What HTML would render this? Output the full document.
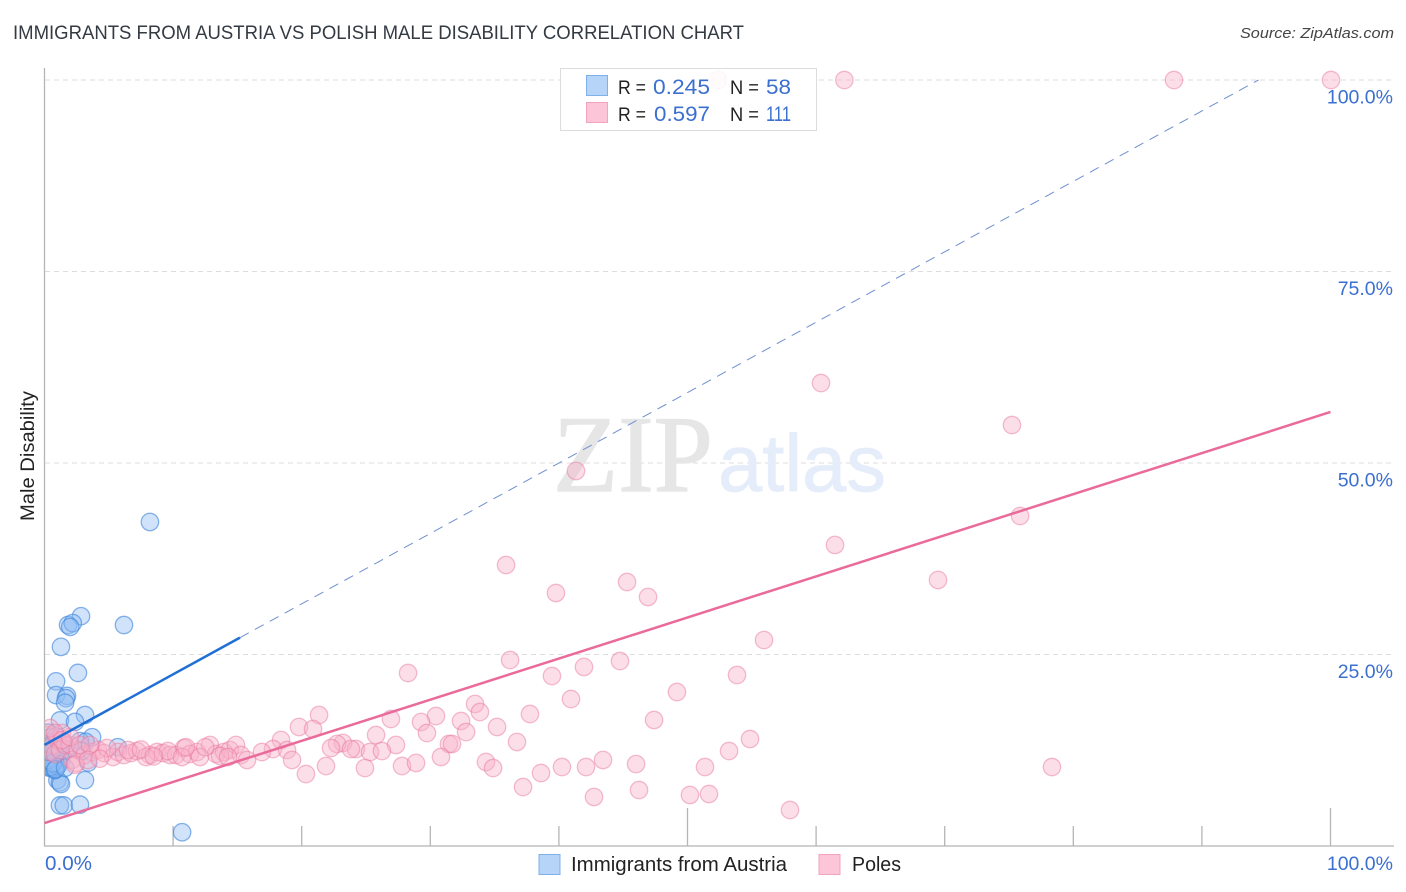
<!DOCTYPE html>
<html lang="en">
<head>
<meta charset="utf-8">
<title>Immigrants from Austria vs Polish Male Disability Correlation Chart</title>
<style>
html,body{margin:0;padding:0;background:#fff;}
svg{display:block;font-family:"Liberation Sans",sans-serif;}
</style>
</head>
<body>
<svg id="chart" width="1406" height="892" viewBox="0 0 1406 892" xmlns="http://www.w3.org/2000/svg">
  <defs>
    <clipPath id="plot-clip"><rect x="45" y="60" width="1349" height="786"/></clipPath>
  </defs>
  <rect x="0" y="0" width="1406" height="892" fill="#ffffff"/>
  <text x="13" y="39" font-size="19" fill="#333a42" textLength="731" lengthAdjust="spacingAndGlyphs">IMMIGRANTS FROM AUSTRIA VS POLISH MALE DISABILITY CORRELATION CHART</text>
  <text x="1394" y="38" font-size="15" font-style="italic" fill="#444" text-anchor="end" textLength="154" lengthAdjust="spacingAndGlyphs">Source: ZipAtlas.com</text>

  <g id="grid"></g>

  <g>
    <text x="553" y="491" font-family="'Liberation Serif',serif" font-size="109" fill="#e6e6e6" stroke="#e6e6e6" stroke-width="1.2" textLength="160" lengthAdjust="spacingAndGlyphs">ZIP</text>
    <text x="718" y="491" font-size="81" fill="#e5edfb" stroke="#e5edfb" stroke-width="0.8" textLength="168" lengthAdjust="spacingAndGlyphs">atlas</text>
  </g>

  <g id="axes">
    <line x1="44.5" y1="68" x2="44.5" y2="846" stroke="#b5b5b5" stroke-width="1.3"/>
    <line x1="44" y1="846" x2="1394" y2="846" stroke="#b5b5b5" stroke-width="1.3"/>
  </g>

  <g id="points" clip-path="url(#plot-clip)"></g>
  <g id="trends"></g>
  <g id="labels"></g>

  <text transform="translate(34,456) rotate(-90)" font-size="19" fill="#222" text-anchor="middle" textLength="130" lengthAdjust="spacingAndGlyphs">Male Disability</text>

  <g>
    <rect x="560.5" y="68.5" width="256" height="62" fill="#ffffff" fill-opacity="0.88" stroke="#dcdcdc" stroke-width="1"/>
    <rect x="586.5" y="75.5" width="21" height="20" fill="#b6d3f8" stroke="#7fb0ea"/>
    <rect x="586.5" y="102.5" width="21" height="20" fill="#fdc6d8" stroke="#f2a3bd"/>
    <text x="618" y="94" font-size="19.5" fill="#222" textLength="28" lengthAdjust="spacingAndGlyphs">R =</text>
    <text x="653" y="94" font-size="21" fill="#3b6fd0" textLength="57" lengthAdjust="spacingAndGlyphs">0.245</text>
    <text x="730" y="94" font-size="19.5" fill="#222" textLength="29" lengthAdjust="spacingAndGlyphs">N =</text>
    <text x="766" y="94" font-size="21" fill="#3b6fd0" textLength="25" lengthAdjust="spacingAndGlyphs">58</text>
    <text x="618" y="121" font-size="19.5" fill="#222" textLength="28" lengthAdjust="spacingAndGlyphs">R =</text>
    <text x="654" y="121" font-size="21" fill="#3b6fd0" textLength="56" lengthAdjust="spacingAndGlyphs">0.597</text>
    <text x="730" y="121" font-size="19.5" fill="#222" textLength="29" lengthAdjust="spacingAndGlyphs">N =</text>
    <text x="766" y="121" font-size="21" fill="#3b6fd0" textLength="25" lengthAdjust="spacingAndGlyphs">111</text>
  </g>

  <g>
    <rect x="539" y="854.5" width="21" height="20" fill="#b6d3f8" stroke="#7fb0ea"/>
    <text x="571" y="871" font-size="20" fill="#222" textLength="216" lengthAdjust="spacingAndGlyphs">Immigrants from Austria</text>
    <rect x="819" y="854.5" width="21" height="20" fill="#fdc6d8" stroke="#f2a3bd"/>
    <text x="852" y="871" font-size="20" fill="#222" textLength="49" lengthAdjust="spacingAndGlyphs">Poles</text>
  </g>
</svg>

<script>
var xTickValues = [10, 20, 30, 40, 50, 60, 70, 80, 90, 100];
var xMajorTicks = [50, 100];
var yTickValues = [25, 50, 75, 100];
var yTickLabels = ['25.0%', '50.0%', '75.0%', '100.0%'];
var xEndLabels = ['0.0%', '100.0%'];

var austriaX = [8.2, 6.18, 2.84, 1.83, 2.2, 2.0, 1.28, 2.6, 0.9, 0.9, 1.75, 1.67, 1.6, 3.15, 1.2, 2.37, 3.7, 5.7, 2.76, 3.2, 3.4, 3.15, 1.0, 1.2, 1.28, 1.2, 1.5, 2.76, 10.7,
  0.3, 0.5, 0.7, 0.9, 1.1, 0.4, 0.6, 0.8, 1.2, 1.5, 1.8, 1.3, 0.2, 0.3, 0.4, 0.5, 0.6, 0.7, 0.8, 0.9, 1.0, 1.1, 0.25, 0.45, 0.65, 0.85, 1.6, 0.35, 2.9];
var austriaY = [42.3, 28.85, 30.0, 28.85, 29.1, 28.6, 26.0, 22.6, 21.5, 19.7, 19.6, 19.3, 18.7, 17.1, 16.4, 16.2, 14.2, 12.9, 13.7, 13.6, 10.9, 8.6, 8.6, 8.3, 8.1, 5.3, 5.3, 5.4, 1.8,
  14.8, 14.2, 13.6, 14.3, 13.1, 12.8, 12.2, 12.6, 12.0, 13.5, 12.6, 11.3, 11.0, 10.5, 10.2, 10.6, 10.9, 10.2, 9.9, 10.1, 10.4, 10.7, 11.2, 10.3, 10.8, 10.0, 10.2, 12.3, 12.4];

var polesX = [52.37, 62.2, 87.83, 100.04, 60.38, 75.23, 75.86, 61.47, 69.48, 41.33, 35.89, 39.77, 45.3, 46.93, 55.95, 36.2, 44.75, 41.95, 39.46, 28.27, 53.85, 49.18, 40.94, 33.48, 33.86, 37.75, 47.4, 21.35, 26.94, 30.44, 29.28, 32.39, 35.19, 19.79, 20.88, 29.74, 32.78, 25.78, 54.86, 36.74, 18.39, 31.45, 31.69, 53.23, 27.33, 23.21, 22.75, 22.28, 24.22, 23.83, 25.31, 26.24, 17.77, 18.86, 30.83, 34.33, 19.25, 21.89, 24.92, 27.8, 28.89, 34.88, 38.61, 40.24, 42.11, 43.43, 46.0, 51.36, 78.34, 20.33, 37.21, 42.73, 46.23, 50.19, 51.67, 57.97,
  0.27, 0.58, 0.43, 0.82, 1.05, 1.2, 1.36, 1.59, 1.98, 2.14, 2.45, 2.6, 3.15, 3.69, 4.16, 4.63, 5.33, 5.72, 6.18, 6.73, 7.19, 8.2, 8.75, 9.21, 9.76, 10.23, 10.85, 11.31, 11.86, 12.87, 13.34, 13.96, 14.42, 14.89, 15.28,
  4.86, 6.49, 7.89, 9.6, 10.69, 12.09, 13.65, 14.27, 15.75, 16.91, 0.43, 0.82, 1.36, 1.98, 2.76, 3.54, 2.37, 3.38, 4.3, 7.5, 8.5, 11.0, 12.5];
var polesY = [100, 100, 100, 100, 60.44, 54.96, 43.08, 39.3, 34.73, 48.96, 36.68, 33.03, 34.46, 32.51, 26.89, 24.28, 24.15, 23.37, 22.19, 22.58, 22.32, 20.1, 19.19, 18.54, 17.49, 17.23, 16.45, 17.1, 16.58, 16.97, 16.19, 16.32, 15.54, 15.54, 15.27, 14.75, 14.88, 14.49, 13.97, 13.58, 13.84, 13.32, 13.32, 12.4, 13.19, 13.45, 13.32, 12.79, 12.66, 12.66, 12.27, 12.4, 12.66, 12.53, 11.62, 10.97, 11.23, 10.44, 10.18, 10.44, 10.84, 10.18, 9.53, 10.31, 10.31, 11.23, 10.7, 10.31, 10.31, 9.4, 7.7, 6.4, 7.31, 6.66, 6.79, 4.7,
  14.49, 13.19, 12.27, 12.0, 13.84, 12.53, 14.75, 13.19, 13.19, 11.23, 10.84, 12.53, 11.88, 12.27, 12.53, 12.14, 11.62, 12.27, 11.88, 12.14, 12.4, 11.88, 12.27, 12.14, 11.88, 11.88, 12.79, 12.01, 12.27, 13.19, 12.01, 12.27, 12.53, 13.19, 11.88,
  12.79, 12.53, 11.62, 12.4, 11.62, 11.62, 11.75, 11.62, 11.23, 12.27, 15.4, 14.75, 13.84, 14.23, 13.19, 13.19, 10.6, 11.23, 11.4, 12.6, 11.7, 12.9, 12.9];

var austriaTrend = [13.2, 27.2, 100];
var austriaTrendX = [0, 15.2, 94.4];
var polesTrend = [3.0, 56.66];
var polesTrendX = [0, 100];

function xScale(v) { return 44.5 + v * 12.86; }
function yScale(v) { return 846 - v * 7.66; }

var NS = 'http://www.w3.org/2000/svg';
function make(tag, parent, attrs, text) {
  var el = document.createElementNS(NS, tag);
  for (var k in attrs) { el.setAttribute(k, attrs[k]); }
  if (text !== undefined) { el.textContent = text; }
  parent.appendChild(el);
  return el;
}

var gridG = document.getElementById('grid');
var axesG = document.getElementById('axes');
var labelsG = document.getElementById('labels');
var pointsG = document.getElementById('points');
var trendsG = document.getElementById('trends');

yTickValues.forEach(function (v, i) {
  var gl = make('line', gridG, {
    x1: 45, x2: 1394, y1: yScale(v), y2: yScale(v),
    stroke: '#dddddd', 'stroke-width': 1, 'stroke-dasharray': '5 4'
  });
  
  
  var lb = make('text', labelsG, {
    x: 1393, y: yScale(v) + 23.5, 'font-size': 19.5, fill: '#3b6fd0', 'text-anchor': 'end'
  }, yTickLabels[i]);
  
  
});

xTickValues.forEach(function (v) {
  var t = make('line', axesG, {
    x1: xScale(v), x2: xScale(v), y1: xMajorTicks.indexOf(v) >= 0 ? 808 : 826, y2: 846,
    stroke: '#b5b5b5', 'stroke-width': 1.3
  });
  
  
});

var x0Label = make('text', labelsG, { x: 45, y: 870, 'font-size': 20, fill: '#3b6fd0', textLength: 47, lengthAdjust: 'spacingAndGlyphs' }, xEndLabels[0]);


var x1Label = make('text', labelsG, { x: 1393, y: 870, 'font-size': 19.5, fill: '#3b6fd0', 'text-anchor': 'end' }, xEndLabels[1]);



austriaX.forEach(function (v, i) {
  var c = make('circle', pointsG, {
    cx: xScale(v), cy: yScale(austriaY[i]), r: 8.7,
    fill: '#8fbcf3', 'fill-opacity': 0.42, stroke: '#3f86dc', 'stroke-opacity': 0.62, 'stroke-width': 1.3
  });
  
  
});

polesX.forEach(function (v, i) {
  var c = make('circle', pointsG, {
    cx: xScale(v), cy: yScale(polesY[i]), r: 8.7,
    fill: '#f9b0c8', 'fill-opacity': 0.42, stroke: '#e8779f', 'stroke-opacity': 0.48, 'stroke-width': 1.3
  });
  
  
});

var aSolid = make('line', trendsG, {
  x1: xScale(austriaTrendX[0]), y1: yScale(austriaTrend[0]),
  x2: xScale(austriaTrendX[1]), y2: yScale(austriaTrend[1]),
  stroke: '#1f6fd6', 'stroke-width': 2.5
});



var aDash = make('line', trendsG, {
  x1: xScale(austriaTrendX[1]), y1: yScale(austriaTrend[1]),
  x2: xScale(austriaTrendX[2]), y2: yScale(austriaTrend[2]),
  stroke: '#6f8fd0', 'stroke-width': 1, 'stroke-dasharray': '10 7'
});



var pSolid = make('line', trendsG, {
  x1: xScale(polesTrendX[0]), y1: yScale(polesTrend[0]),
  x2: xScale(polesTrendX[1]), y2: yScale(polesTrend[1]),
  stroke: '#ea6a9a', 'stroke-width': 2.5
});


</script>
</body>
</html>
